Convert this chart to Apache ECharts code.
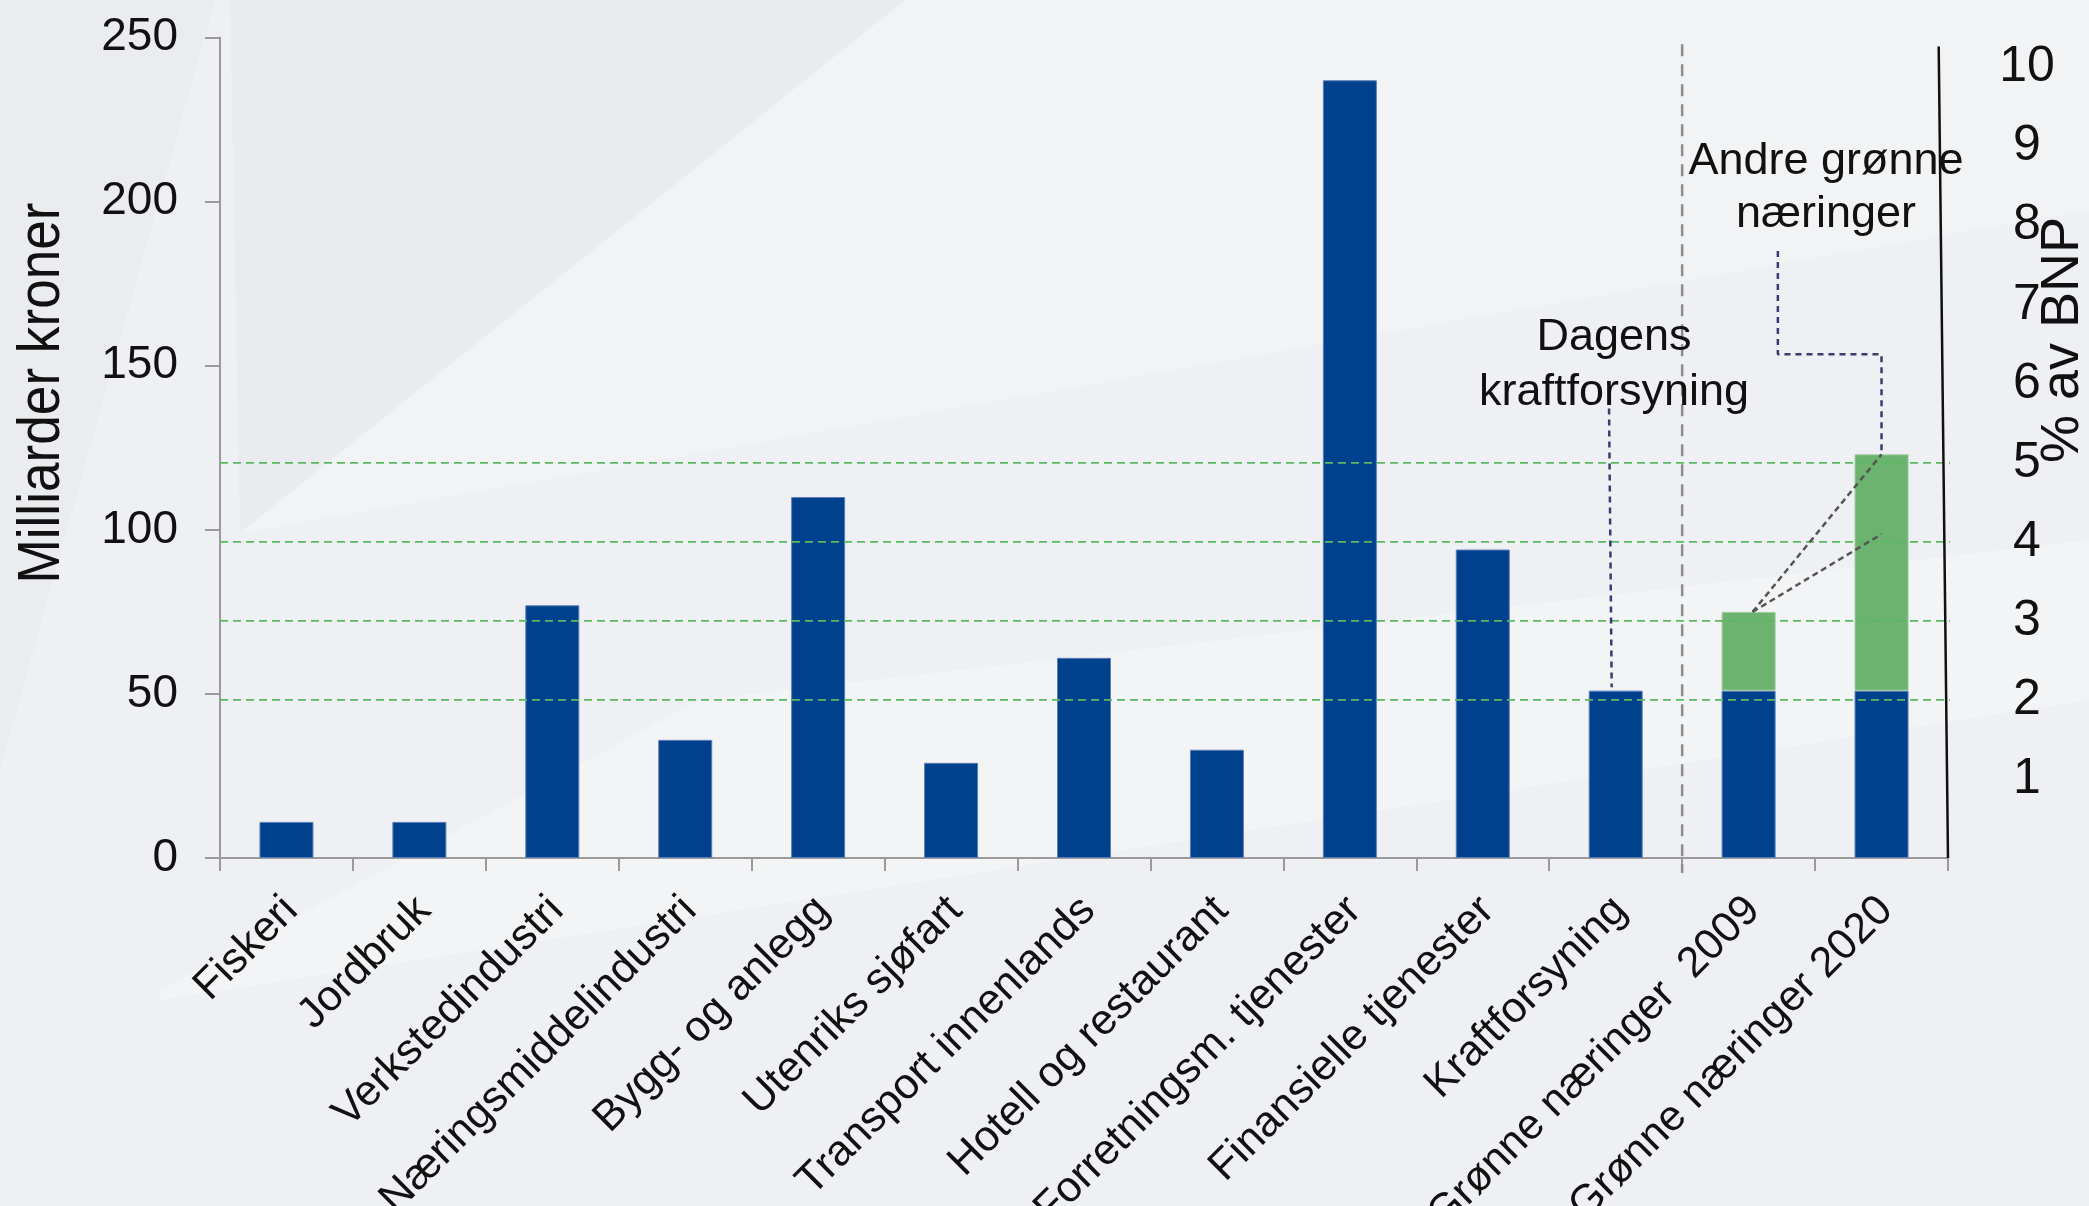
<!DOCTYPE html>
<html>
<head>
<meta charset="utf-8">
<script src="https://cdn.jsdelivr.net/npm/echarts@6/dist/echarts.min.js"></script>
<style>
html,body{margin:0;padding:0;background:#eef0f3;}
#chart{width:2089px;height:1206px;}
</style>
</head>
<body>
<div id="chart"></div>
<script>
// ---- Data ----
const categories = ['Fiskeri','Jordbruk','Verkstedindustri','Næringsmiddelindustri','Bygg- og anlegg','Utenriks sjøfart','Transport innenlands','Hotell og restaurant','Forretningsm. tjenester','Finansielle tjenester','Kraftforsyning','Grønne næringer  2009','Grønne næringer 2020'];
const baseValues = [11, 11, 77, 36, 110, 29, 61, 33, 237, 94, 51, 51, 51];
const greenValues = [null, null, null, null, null, null, null, null, null, null, null, 24, 72];
const leftTicks = [0, 50, 100, 150, 200, 250];
const bnpTicks = [1, 2, 3, 4, 5, 6, 7, 8, 9, 10];
const bnpGridLevels = [2, 3, 4, 5];
const bnpMax = 10.38;
const yTitle = 'Milliarder kroner';
const y2Title = '% av BNP';
const noteDagens = 'Dagens\nkraftforsyning';
const noteAndre = 'Andre grønne\nnæringer';

// annotation paths in data space (x: category units from left edge, y: milliarder kroner)
const dagensLeader = [[10.45, 137], [10.47, 52]];
const andreLeader = [[11.72, 185], [11.72, 153.5], [12.5, 153.5], [12.5, 123]];
const pointerA = [[11.53, 75], [12.5, 123]];
const pointerB = [[11.53, 75], [12.5, 98.7]];
const separator = [[11, 248], [11, -4.6]];
const rightRule = [[12.93, 247.3], [13, 0]];

const FONT = "'Liberation Sans', Arial, sans-serif";
const BLUE = '#00418d';
const GREEN = '#6bb36f';

const chart = echarts.init(document.getElementById('chart'), null, {renderer: 'canvas'});

function lineSeries(data, color, width, dash, xi, yi) {
  return {
    type: 'line', xAxisIndex: xi, yAxisIndex: yi, data: data,
    symbol: 'none', clip: false, silent: true, z: 5,
    lineStyle: {color: color, width: width, type: dash},
    emphasis: {disabled: true}
  };
}

const series = [
  {type: 'bar', name: 'base', stack: 'a', data: baseValues, barWidth: 54,
   itemStyle: {color: BLUE, borderColor: '#5b7fb8', borderWidth: 1}, z: 2},
  {type: 'bar', name: 'green', stack: 'a', data: greenValues, barWidth: 54,
   itemStyle: {color: GREEN, borderColor: '#9ccc9f', borderWidth: 1}, z: 2}
];
bnpGridLevels.forEach(function (lvl) {
  series.push(lineSeries([[0, lvl], [13.1, lvl]], '#5cb860', 1.8, [8, 5], 1, 1));
});
series.push(lineSeries(separator, '#8c8c8c', 2.5, [12, 8], 1, 0));
series.push(lineSeries(dagensLeader, '#3b3b6e', 2.5, [6, 5], 1, 0));
series.push(lineSeries(andreLeader, '#3b3b6e', 2.5, [6, 5], 1, 0));
series.push(lineSeries(pointerA, '#555555', 2.5, [6, 4], 1, 0));
series.push(lineSeries(pointerB, '#555555', 2.5, [6, 4], 1, 0));
series.push(lineSeries(rightRule, '#111111', 2.5, 'solid', 1, 0));

const option = {
  backgroundColor: '#eef0f3',
  animation: false,
  grid: {left: 220, right: 141, top: 37.6, bottom: 348, containLabel: false, outerBoundsMode: 'none'},
  xAxis: [
    {type: 'category', data: categories,
     axisLine: {lineStyle: {color: '#9a9a9a', width: 2}},
     axisTick: {show: true, length: 13, lineStyle: {color: '#9a9a9a', width: 2}},
     axisLabel: {rotate: 45, fontSize: 43, fontFamily: FONT, color: '#111', margin: 20,
                 padding: [0, 15, 0, 0],
                 interval: 0, align: 'right', verticalAlign: 'top'}},
    {type: 'value', min: 0, max: 13, show: false}
  ],
  yAxis: [
    {type: 'value', min: leftTicks[0], max: leftTicks[leftTicks.length - 1], interval: 50,
     axisLine: {show: true, lineStyle: {color: '#9a9a9a', width: 2}},
     axisTick: {show: true, length: 15, lineStyle: {color: '#9a9a9a', width: 2}},
     splitLine: {show: false},
     axisLabel: {fontSize: 46, fontFamily: FONT, color: '#111', margin: 42}},
    {type: 'value', min: 0, max: bnpMax, interval: 1, position: 'right',
     axisLine: {show: false}, axisTick: {show: false}, splitLine: {show: false},
     axisLabel: {fontSize: 50, fontFamily: FONT, color: '#111', margin: 79, align: 'center',
                 showMaxLabel: false, showMinLabel: false,
                 formatter: function (v) { return bnpTicks.indexOf(v) >= 0 ? String(v) : ''; }}}
  ],
  graphic: [
    {type: 'polygon', silent: true, z: -10, shape: {points: [[0,0],[215,0],[0,770]]}, style: {fill: '#eaecef'}},
    {type: 'polygon', silent: true, z: -10, shape: {points: [[230,0],[905,0],[240,533]]}, style: {fill: '#e9ebee'}},
    {type: 'polygon', silent: true, z: -10, shape: {points: [[240,533],[905,0],[2089,0],[2089,210]]}, style: {fill: '#f2f3f5'}},
    {type: 'polygon', silent: true, z: -10, shape: {points: [[160,990],[700,700],[2089,540],[2089,700],[160,1000]]}, style: {fill: '#f3f4f6'}},
    {type: 'text', x: 42, y: 393, rotation: Math.PI / 2, scaleX: 0.886, z: 10,
     style: {text: yTitle, align: 'center', verticalAlign: 'middle', fontSize: 60,
             fontFamily: FONT, fill: '#111'}},
    {type: 'text', x: 2063, y: 340, rotation: Math.PI / 2, z: 10,
     style: {text: y2Title, align: 'center', verticalAlign: 'middle', fontSize: 54, fontFamily: FONT, fill: '#111'}},
    {type: 'text', x: 1614, y: 365, z: 10,
     style: {text: noteDagens, align: 'center', verticalAlign: 'middle', fontSize: 45, lineHeight: 55, fontFamily: FONT, fill: '#111'}},
    {type: 'text', x: 1826, y: 188, z: 10,
     style: {text: noteAndre, align: 'center', verticalAlign: 'middle', fontSize: 45, lineHeight: 53, fontFamily: FONT, fill: '#111'}}
  ],
  series: series
};
chart.setOption(option);
</script>
</body>
</html>
